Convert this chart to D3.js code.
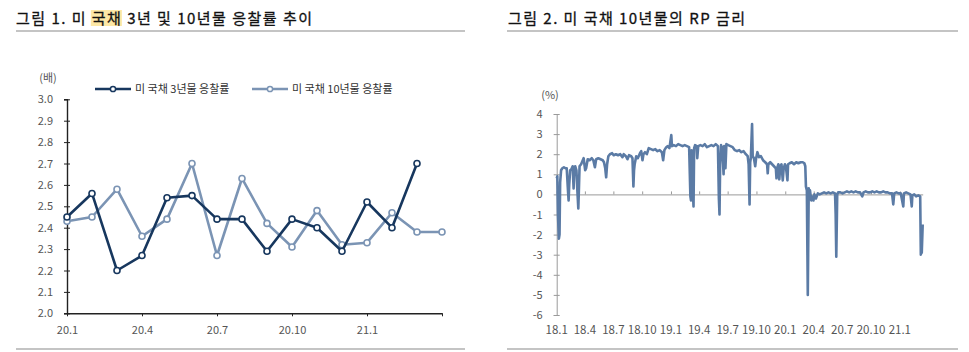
<!DOCTYPE html>
<html>

<head>
	<meta charset="utf-8">
	<script src="https://cdn.jsdelivr.net/npm/d3@7/dist/d3.min.js"></script>
	<style>
		body {
			margin: 0;
			background: #fff;
			font-family: "Noto Sans CJK KR", "Noto Sans", sans-serif;
		}

		.title {
			font-size: 15px;
			fill: #111;
			stroke: #111;
			stroke-width: 0.3px;
		}

		.axis text {
			font-family: "Noto Sans CJK KR", "Noto Sans", sans-serif;
			font-size: 11px;
			fill: #555;
		}

		.legend {
			font-size: 11px;
			fill: #333;
		}
	</style>
</head>

<body>
	<svg></svg>
	<script>
		var width = 969;
		var height = 352;

		// 그림 1 data: monthly auction bid-to-cover
		var months = ["20.1", "20.2", "20.3", "20.4", "20.5", "20.6", "20.7", "20.8",
			"20.9", "20.10", "20.11", "20.12", "21.1", "21.2", "21.3", "21.4"];
		var bid3y = [2.45, 2.56, 2.20, 2.27, 2.54, 2.55, 2.44, 2.44, 2.29, 2.44, 2.40, 2.29, 2.52, 2.40, 2.70];
		var bid10y = [2.43, 2.45, 2.58, 2.36, 2.44, 2.70, 2.27, 2.63, 2.42, 2.31, 2.48, 2.32, 2.33, 2.47, 2.38, 2.38];
		var bidTicks = [2.0, 2.1, 2.2, 2.3, 2.4, 2.5, 2.6, 2.7, 2.8, 2.9, 3.0];
		var seriesNames = ["미 국채 3년물 응찰률", "미 국채 10년물 응찰률"];

		// 그림 2 data: 10y RP rate (date, %)
		var rpTicks = ["18.1", "18.4", "18.7", "18.10", "19.1", "19.4", "19.7", "19.10", "20.1", "20.4", "20.7", "20.10", "21.1"];
		var rpYTicks = [-6, -5, -4, -3, -2, -1, 0, 1, 2, 3, 4];
		var rpSeries = [
			["2018-01-01", 0.8], ["2018-01-03", 0.9], ["2018-01-05", -1.0], ["2018-01-08", -2.2], ["2018-01-10", -2.0],
			["2018-01-12", 0.6], ["2018-01-15", 1.2], ["2018-01-19", 1.3], ["2018-01-24", 1.35], ["2018-01-29", 1.3],
			["2018-02-02", 1.3], ["2018-02-06", 0.2], ["2018-02-08", -0.3], ["2018-02-10", 0.5], ["2018-02-13", 1.2],
			["2018-02-17", 1.25], ["2018-02-21", 1.4], ["2018-02-24", 0.3], ["2018-02-26", 1.2], ["2018-03-01", 1.4],
			["2018-03-05", 1.2], ["2018-03-08", 0.2], ["2018-03-11", -0.7], ["2018-03-13", 0.3], ["2018-03-15", 1.4],
			["2018-03-20", 1.5], ["2018-03-28", 1.8], ["2018-04-02", 1.2], ["2018-04-05", 1.3], ["2018-04-10", 1.75],
			["2018-04-16", 1.7], ["2018-04-23", 1.8], ["2018-04-28", 1.7], ["2018-05-03", 1.35], ["2018-05-07", 1.75],
			["2018-05-14", 1.8], ["2018-05-21", 1.75], ["2018-05-28", 1.7], ["2018-06-01", 1.6], ["2018-06-05", 1.3],
			["2018-06-08", 0.85], ["2018-06-11", 1.5], ["2018-06-15", 1.9], ["2018-06-20", 2.0], ["2018-06-27", 2.05],
			["2018-07-02", 1.95], ["2018-07-09", 2.0], ["2018-07-16", 1.95], ["2018-07-23", 2.0], ["2018-07-30", 1.85],
			["2018-08-03", 2.0], ["2018-08-10", 1.9], ["2018-08-15", 1.75], ["2018-08-20", 1.95], ["2018-08-27", 1.9],
			["2018-08-31", 1.8], ["2018-09-03", 0.4], ["2018-09-05", 1.2], ["2018-09-07", 1.5], ["2018-09-12", 1.9],
			["2018-09-17", 1.8], ["2018-09-24", 2.05], ["2018-09-28", 2.15], ["2018-10-02", 1.7], ["2018-10-05", 2.0],
			["2018-10-10", 2.1], ["2018-10-16", 2.0], ["2018-10-22", 2.3], ["2018-10-29", 2.25], ["2018-11-05", 2.2],
			["2018-11-12", 2.25], ["2018-11-19", 2.15], ["2018-11-26", 2.2], ["2018-12-03", 2.1], ["2018-12-07", 1.7],
			["2018-12-11", 2.2], ["2018-12-17", 2.35], ["2018-12-21", 2.4], ["2018-12-27", 2.3], ["2019-01-02", 2.95],
			["2019-01-04", 2.4], ["2019-01-10", 2.45], ["2019-01-17", 2.4], ["2019-01-24", 2.5], ["2019-01-31", 2.45],
			["2019-02-07", 2.4], ["2019-02-14", 2.45], ["2019-02-21", 2.4], ["2019-02-28", 2.35], ["2019-03-04", -0.1],
			["2019-03-06", -0.3], ["2019-03-08", 2.2], ["2019-03-11", 0.5], ["2019-03-14", -0.6], ["2019-03-16", 2.3],
			["2019-03-19", 2.45], ["2019-03-24", 2.4], ["2019-03-26", 1.8], ["2019-03-29", 2.4], ["2019-04-05", 2.45],
			["2019-04-12", 2.4], ["2019-04-19", 2.5], ["2019-04-26", 2.35], ["2019-05-03", 2.4], ["2019-05-10", 2.45],
			["2019-05-17", 2.4], ["2019-05-24", 2.5], ["2019-05-31", 2.4], ["2019-06-03", -0.2], ["2019-06-05", -1.0],
			["2019-06-07", 1.5], ["2019-06-10", 2.45], ["2019-06-14", 2.3], ["2019-06-18", 1.0], ["2019-06-20", 2.4],
			["2019-06-24", 1.3], ["2019-06-27", 2.5], ["2019-07-03", 2.45], ["2019-07-10", 2.4], ["2019-07-17", 2.35],
			["2019-07-24", 2.2], ["2019-07-31", 2.15], ["2019-08-07", 2.2], ["2019-08-14", 2.1], ["2019-08-21", 2.15],
			["2019-08-28", 2.0], ["2019-09-03", 1.9], ["2019-09-06", 1.5], ["2019-09-09", -0.5], ["2019-09-11", 1.6],
			["2019-09-13", 1.8], ["2019-09-17", 3.5], ["2019-09-19", 1.9], ["2019-09-23", 1.8], ["2019-09-27", 1.4],
			["2019-09-30", 1.8], ["2019-10-04", 2.1], ["2019-10-09", 1.85], ["2019-10-15", 1.9], ["2019-10-22", 1.7],
			["2019-10-29", 1.6], ["2019-11-04", 1.5], ["2019-11-06", 1.05], ["2019-11-08", 1.5], ["2019-11-14", 1.6],
			["2019-11-20", 1.5], ["2019-11-26", 1.4], ["2019-12-02", 1.3], ["2019-12-04", 0.8], ["2019-12-06", 1.3],
			["2019-12-10", 1.5], ["2019-12-13", 0.75], ["2019-12-16", 1.4], ["2019-12-20", 1.5], ["2019-12-24", 0.7],
			["2019-12-27", 1.3], ["2019-12-31", 1.5], ["2020-01-03", 1.4], ["2020-01-08", 0.7], ["2020-01-10", 1.5],
			["2020-01-15", 1.55], ["2020-01-22", 1.6], ["2020-01-29", 1.5], ["2020-02-05", 1.6], ["2020-02-12", 1.55],
			["2020-02-19", 1.6], ["2020-02-26", 1.6], ["2020-03-02", 1.55], ["2020-03-05", 1.4], ["2020-03-07", 0.4],
			["2020-03-10", 0.2], ["2020-03-13", -5.0], ["2020-03-16", 0.3], ["2020-03-18", -0.2], ["2020-03-20", 0.2],
			["2020-03-24", -0.3], ["2020-03-27", -0.1], ["2020-03-31", -0.3], ["2020-04-03", 0.0], ["2020-04-08", -0.2],
			["2020-04-14", 0.05], ["2020-04-20", 0.0], ["2020-04-27", 0.05], ["2020-05-04", 0.1], ["2020-05-11", 0.05],
			["2020-05-18", 0.1], ["2020-05-25", 0.05], ["2020-06-01", 0.1], ["2020-06-08", 0.05], ["2020-06-10", -1.0],
			["2020-06-12", -3.1], ["2020-06-15", 0.0], ["2020-06-18", 0.1], ["2020-06-25", 0.1], ["2020-07-02", 0.05],
			["2020-07-09", 0.1], ["2020-07-16", 0.15], ["2020-07-23", 0.1], ["2020-07-30", 0.15], ["2020-08-06", 0.1],
			["2020-08-13", 0.15], ["2020-08-20", 0.1], ["2020-08-27", 0.1], ["2020-09-03", -0.1], ["2020-09-07", 0.1],
			["2020-09-14", 0.15], ["2020-09-21", 0.1], ["2020-09-28", 0.1], ["2020-10-05", 0.15], ["2020-10-12", 0.1],
			["2020-10-19", 0.15], ["2020-10-26", 0.1], ["2020-11-02", 0.1], ["2020-11-09", 0.15], ["2020-11-16", 0.1],
			["2020-11-23", 0.1], ["2020-11-30", 0.05], ["2020-12-07", 0.05], ["2020-12-11", -0.5], ["2020-12-14", 0.05],
			["2020-12-21", 0.1], ["2020-12-28", 0.05], ["2021-01-04", 0.05], ["2021-01-12", -0.6], ["2021-01-14", 0.05],
			["2021-01-21", 0.1], ["2021-01-28", 0.05], ["2021-02-04", 0.0], ["2021-02-08", -0.6], ["2021-02-10", -0.05],
			["2021-02-16", 0.0], ["2021-02-22", -0.1], ["2021-03-01", -0.05], ["2021-03-07", -0.1], ["2021-03-09", -3.0],
			["2021-03-11", -2.7], ["2021-03-12", -2.9], ["2021-03-15", -1.5]
		];

		var navy = "#17375e";
		var steel = "#7b94b4";
		var rpColor = "#5b7ba5";

		var svg = d3.select("svg")
			.attr("width", width)
			.attr("height", height);

		// titles and rules
		var hl = svg.append("rect")
			.attr("y", 10)
			.attr("height", 16)
			.attr("fill", "#fde8a6");
		var title1 = svg.append("text").attr("class", "title")
			.attr("x", 16).attr("y", 23.5)
			.attr("textLength", 296).attr("lengthAdjust", "spacing")
			.text("그림 1. 미 국채 3년 및 10년물 응찰률 추이");
		svg.append("text").attr("class", "title")
			.attr("x", 508).attr("y", 23.5)
			.attr("textLength", 237).attr("lengthAdjust", "spacing")
			.text("그림 2. 미 국채 10년물의 RP 금리");

		// highlight behind "국채"
		var t1 = title1.node();
		var k = t1.textContent.indexOf("국채");
		var hx0 = t1.getStartPositionOfChar(k).x;
		var hx1 = t1.getEndPositionOfChar(k + 1).x;
		hl.attr("x", hx0 - 1).attr("width", hx1 - hx0 + 2);

		[[16, 465], [507, 958]].forEach(function (r) {
			[31, 349].forEach(function (yy) {
				svg.append("line")
					.attr("x1", r[0]).attr("x2", r[1])
					.attr("y1", yy).attr("y2", yy)
					.attr("stroke", "#8a8a8a")
					.attr("stroke-width", 1.2);
			});
		});

		// ---------- chart 1 ----------
		var x1 = d3.scaleLinear().domain([0, months.length - 1]).range([67, 442]);
		var y1 = d3.scaleLinear().domain([2.0, 3.0]).range([313.3, 99.3]);

		var g1 = svg.append("g");

		var yAxis1 = g1.append("g")
			.attr("class", "axis")
			.attr("transform", "translate(67,0)")
			.call(d3.axisLeft(y1).tickValues(bidTicks).tickFormat(d3.format(".1f")).tickSize(3).tickPadding(11));
		yAxis1.select(".domain").attr("stroke", "#222").attr("stroke-width", 1.4);
		yAxis1.selectAll(".tick line").attr("x1", 3).attr("x2", -3).attr("stroke", "#222");

		var xAxis1 = g1.append("g")
			.attr("class", "axis")
			.attr("transform", "translate(0,313.3)")
			.call(d3.axisBottom(x1).tickValues([0, 3, 6, 9, 12, 15])
				.tickFormat(function (i) { return i < 15 ? months[i] : ""; })
				.tickSize(3).tickPadding(10).tickSizeOuter(0));
		xAxis1.select(".domain").attr("stroke", "#222").attr("stroke-width", 1.4);
		xAxis1.selectAll(".tick line").attr("stroke", "#222");

		g1.append("text")
			.attr("x", 48).attr("y", 82)
			.attr("text-anchor", "middle")
			.style("font-size", "11px").style("fill", "#555")
			.text("(배)");

		var line1 = d3.line()
			.x(function (d, i) { return x1(i); })
			.y(function (d) { return y1(d); });

		[[bid10y, steel], [bid3y, navy]].forEach(function (s) {
			g1.append("path")
				.datum(s[0])
				.attr("d", line1)
				.attr("fill", "none")
				.attr("stroke", s[1])
				.attr("stroke-width", 2.6)
				.attr("stroke-linejoin", "round");
			g1.selectAll(null)
				.data(s[0])
				.enter()
				.append("circle")
				.attr("cx", function (d, i) { return x1(i); })
				.attr("cy", function (d) { return y1(d); })
				.attr("r", 3)
				.attr("fill", "#fff")
				.attr("stroke", s[1])
				.attr("stroke-width", 1.6);
		});

		// legend
		var legendX = [95, 252];
		[navy, steel].forEach(function (c, i) {
			var lg = g1.append("g").attr("transform", "translate(" + legendX[i] + ",89)");
			lg.append("line").attr("x1", 0).attr("x2", 36).attr("y1", 0).attr("y2", 0)
				.attr("stroke", c).attr("stroke-width", 2.6);
			lg.append("circle").attr("cx", 18).attr("cy", 0).attr("r", 2.6)
				.attr("fill", "#fff").attr("stroke", c).attr("stroke-width", 1.5);
			lg.append("text").attr("class", "legend")
				.attr("x", 40).attr("y", 4)
				.text(seriesNames[i]);
		});

		// ---------- chart 2 ----------
		var parseDate = d3.timeParse("%Y-%m-%d");
		var tickDate = function (s) {
			var p = s.split(".");
			return new Date(2000 + +p[0], +p[1] - 1, 1);
		};
		var x2 = d3.scaleTime()
			.domain([new Date(2018, 0, 1), new Date(2021, 2, 15)])
			.range([556.7, 922.7]);
		var y2 = d3.scaleLinear().domain([-6, 4]).range([315, 114]);

		var g2 = svg.append("g");

		var yAxis2 = g2.append("g")
			.attr("class", "axis")
			.attr("transform", "translate(556.7,0)")
			.call(d3.axisLeft(y2).tickValues(rpYTicks).tickFormat(d3.format("d")).tickSize(3).tickPadding(11));
		yAxis2.select(".domain").attr("stroke", "#9a9a9a");
		yAxis2.selectAll(".tick line").attr("x1", 3).attr("x2", -3).attr("stroke", "#9a9a9a");
		yAxis2.selectAll(".tick text").text(function (d) { return d < 0 ? "-" + Math.abs(d) : d; });

		var xAxis2 = g2.append("g")
			.attr("class", "axis")
			.attr("transform", "translate(0," + y2(0) + ")")
			.call(d3.axisTop(x2).tickValues(rpTicks.map(tickDate)).tickFormat("").tickSize(3).tickSizeOuter(0));
		xAxis2.select(".domain").attr("stroke", "#9a9a9a");
		xAxis2.selectAll(".tick line").attr("stroke", "#9a9a9a");

		g2.selectAll(".rpLabel")
			.data(rpTicks)
			.enter()
			.append("text")
			.attr("class", "rpLabel")
			.attr("x", function (d) { return x2(tickDate(d)); })
			.attr("y", 334)
			.attr("text-anchor", "middle")
			.style("font-size", "11.5px").style("fill", "#555")
			.text(function (d) { return d; });

		g2.append("text")
			.attr("x", 550).attr("y", 99)
			.attr("text-anchor", "middle")
			.style("font-size", "11px").style("fill", "#555")
			.text("(%)");

		var line2 = d3.line()
			.x(function (d) { return x2(parseDate(d[0])); })
			.y(function (d) { return y2(d[1]); });

		g2.append("path")
			.datum(rpSeries)
			.attr("d", line2)
			.attr("fill", "none")
			.attr("stroke", rpColor)
			.attr("stroke-width", 2.6)
			.attr("stroke-linejoin", "round");
	</script>
</body>

</html>
